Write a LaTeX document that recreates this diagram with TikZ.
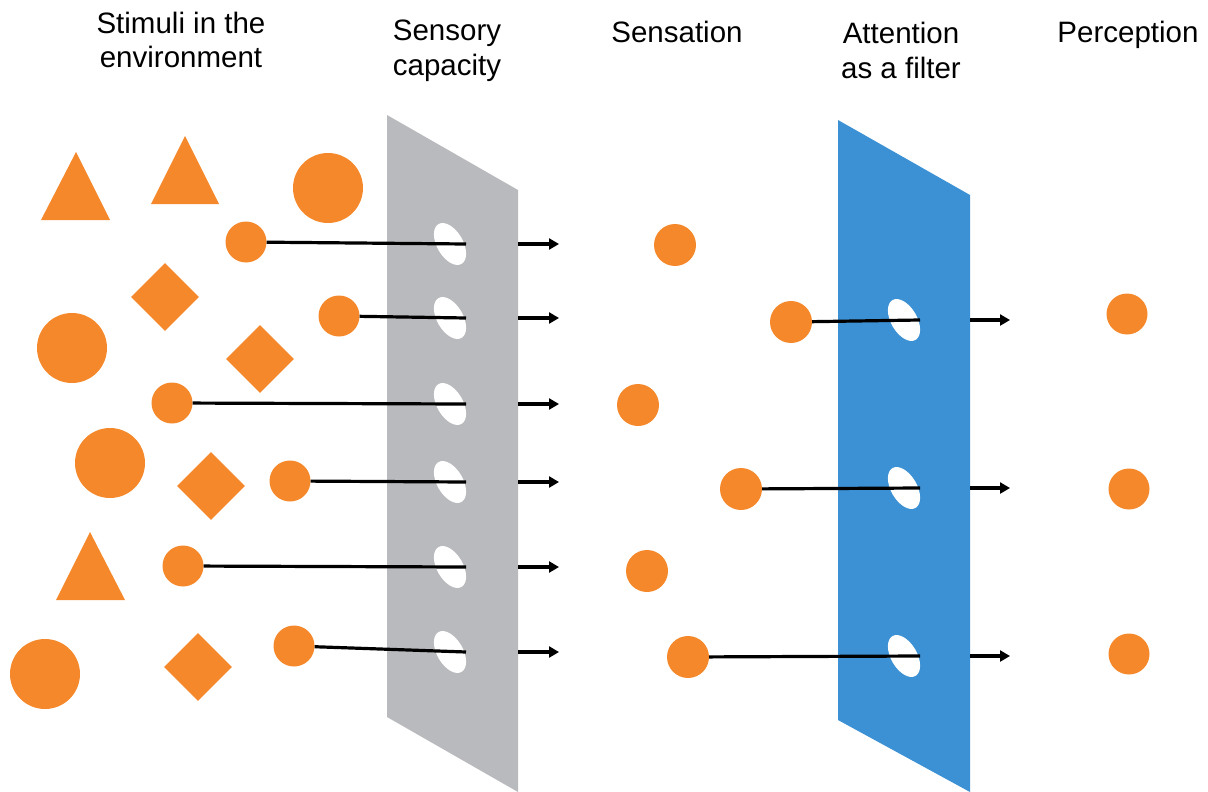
\documentclass[tikz,border=0pt]{standalone}
\usepackage{fontspec}
\setmainfont{Liberation Sans}
\usetikzlibrary{arrows.meta,shapes.geometric}
\definecolor{dotorange}{HTML}{F4882A}
\definecolor{panelgray}{HTML}{B9BABD}
\definecolor{panelblue}{HTML}{3B91D4}
\begin{document}
\begin{tikzpicture}[x=1pt,y=-1pt,
  dot/.style={circle,fill=dotorange,draw=none,inner sep=0pt,minimum size=#1},
  dot/.default=41pt,
  gem/.style={diamond,fill=dotorange,draw=none,inner sep=0pt,minimum size=68pt},
  hole/.style={ellipse,fill=white,draw=none,inner sep=0pt,minimum width=26pt,minimum height=46pt,rotate=30},
  wire/.style={line width=3.2pt,draw=black},
  passarrow/.style={line width=3.2pt,draw=black,-{Triangle[length=10pt,width=11pt]}},
  heading/.style={font=\fontsize{29.5}{35}\selectfont,align=center,inner sep=0pt,anchor=base}
]
\useasboundingbox (0,0) rectangle (1208,792);

% column headings (anchored at the baseline of the last line)
\node[heading] (tStim)  at (181,68) {Stimuli in the\\environment};
\node[heading] (tSens)  at (447,75) {Sensory\\capacity};
\node[heading] (tSen)   at (677,43) {Sensation};
\node[heading] (tAtt)   at (901,78) {Attention\\as a filter};
\node[heading] (tPerc)  at (1128,43) {Perception};

% the two filter panels
\fill[panelgray] (387,115) -- (518,190) -- (518,792) -- (387,717) -- cycle;
\fill[panelblue] (838,120) -- (970,195) -- (970,792) -- (838,720) -- cycle;

% stimuli that do not pass
\fill[dotorange] (41,220) -- (76,152) -- (110,220) -- cycle;
\fill[dotorange] (151,204) -- (185,136) -- (219,204) -- cycle;
\fill[dotorange] (56,600) -- (90,532) -- (125,600) -- cycle;
\node[dot=70pt] (b1) at (328,188) {};
\node[dot=70pt] (b2) at (72,348) {};
\node[dot=70pt] (b3) at (110,463) {};
\node[dot=70pt] (b4) at (45,674) {};
\node[gem] (d1) at (165,297) {};
\node[gem] (d2) at (260,359) {};
\node[gem] (d3) at (211,486) {};
\node[gem] (d4) at (198,667) {};

% stimuli that reach the senses
\node[dot] (s1) at (246,242) {};
\node[dot] (s2) at (339,316) {};
\node[dot] (s3) at (172,403) {};
\node[dot] (s4) at (290,481) {};
\node[dot] (s5) at (183,566) {};
\node[dot] (s6) at (294,646) {};

% openings of the sensory panel, stimuli wires and onward arrows
\foreach \i/\y in {1/244,2/318,3/404,4/482,5/567,6/652}{
  \node[hole] (gh\i) at (450,\y) {};
  \coordinate (ge\i) at (466,\y);
  \coordinate (ga\i) at (518,\y);
  \coordinate (gb\i) at (559,\y);
  \draw[wire] (s\i) -- (ge\i);
  \draw[passarrow] (ga\i) -- (gb\i);
}

% sensations
\node[dot=42pt] (n1) at (675,245) {};
\node[dot=42pt] (n2) at (791,322) {};
\node[dot=42pt] (n3) at (638,405) {};
\node[dot=42pt] (n4) at (741,489) {};
\node[dot=42pt] (n5) at (647,571) {};
\node[dot=42pt] (n6) at (688,657) {};

% openings of the attention panel
\foreach \i/\y/\s in {1/320/n2,2/488/n4,3/656/n6}{
  \node[hole] (bh\i) at (904,\y) {};
  \coordinate (be\i) at (920,\y);
  \coordinate (ba\i) at (970,\y);
  \coordinate (bb\i) at (1010,\y);
  \draw[wire] (\s) -- (be\i);
  \draw[passarrow] (ba\i) -- (bb\i);
}

% perceptions
\node[dot] (p1) at (1127,314) {};
\node[dot] (p2) at (1129,489) {};
\node[dot] (p3) at (1129,654) {};
\end{tikzpicture}
\end{document}
